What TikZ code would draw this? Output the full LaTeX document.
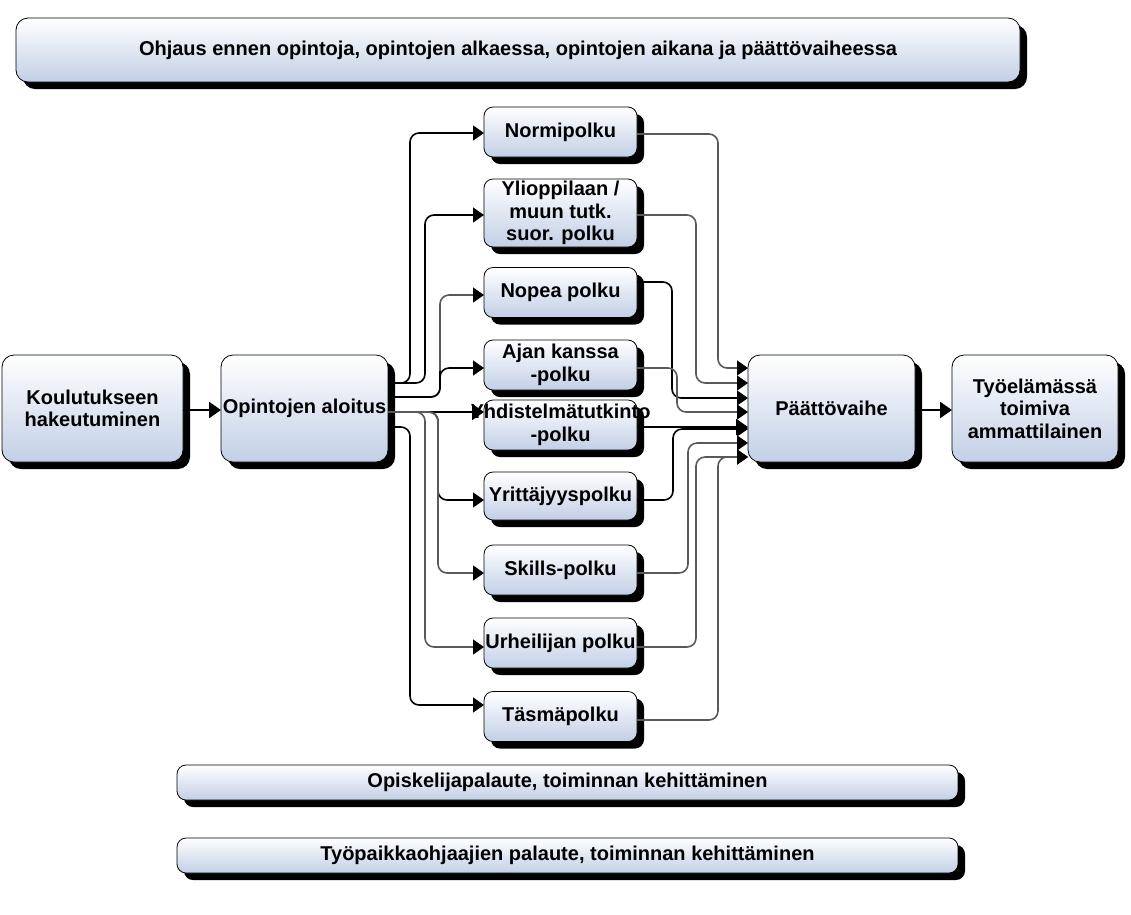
\documentclass[tikz,border=0pt]{standalone}
\usepackage{fontspec}
\setmainfont{Liberation Sans}
\definecolor{flowBlue}{HTML}{C2CFE6}
\definecolor{flowGray}{HTML}{595959}
\usetikzlibrary{arrows.meta, positioning, shadows}

\begin{document}
\begin{tikzpicture}[
  x=1pt, y=-1pt,
  box/.style={draw=black, line width=0.8pt, rounded corners=12pt,
    top color=white, bottom color=flowBlue,
    drop shadow={shadow xshift=7pt, shadow yshift=-7pt, fill=black, opacity=1},
    align=center, inner sep=0pt, outer sep=0pt,
    font=\fontsize{20}{22.5}\selectfont\bfseries},
  stage/.style={box, minimum width=167pt, minimum height=107pt},
  route/.style={box, rounded corners=9pt, minimum width=153pt, minimum height=50pt},
  band/.style={box, rounded corners=9pt, minimum width=781pt, minimum height=35pt},
  link/.style={line width=1.6pt, rounded corners=9pt,
    -{Triangle[length=11pt, width=15pt, color=black]}},
  mainlink/.style={line width=2.4pt, -{Triangle[length=12pt, width=16pt, color=black]}}
]
  \useasboundingbox (0,0) rectangle (1131,914);

  % Nodes
  \node[box, minimum width=1004pt, minimum height=64pt] (ohjaus) at (518,50)
    {Ohjaus ennen opintoja, opintojen alkaessa, opintojen aikana ja päättövaiheessa};
  \node[stage, minimum width=181pt] (hakeutuminen) at (92.5,408.5) {Koulutukseen\\hakeutuminen};
  \node[stage, right=38pt of hakeutuminen] (aloitus) {Opintojen aloitus};

  \node[route] (normi) at (560.5,132) {Normipolku};
  \node[route, minimum height=68pt] (ylioppilas) at (560.5,213) {Ylioppilaan /\\muun tutk.\\suor. polku};
  \node[route] (nopea) at (560.5,292.5) {Nopea polku};
  \node[route] (ajan) at (560.5,365) {Ajan kanssa\\-polku};
  \node[route] (yhdistelma) at (560.5,425) {\makebox[0pt]{Yhdistelmätutkinto}\\-polku};
  \node[route, minimum height=48pt] (yrittajyys) at (560.5,496) {Yrittäjyyspolku};
  \node[route] (skills) at (560.5,570) {Skills-polku};
  \node[route] (urheilija) at (560.5,643) {Urheilijan polku};
  \node[route] (tasma) at (560.5,716.5) {Täsmäpolku};

  \node[stage] (paatto) at (831.5,408.5) {Päättövaihe};
  \node[stage, minimum width=166pt, right=37pt of paatto] (tyoelama) {Työelämässä\\toimiva\\ammattilainen};

  \node[band] (opiskelija) at (567.5,782.5) {Opiskelijapalaute, toiminnan kehittäminen};
  \node[band] (ohjaajat) at (567.5,855.5) {Työpaikkaohjaajien palaute, toiminnan kehittäminen};

  % Paths in
  \draw[mainlink] (hakeutuminen.east |- 0,410) -- (aloitus.west |- 0,410);
  \draw[link] (aloitus.east |- 0,383) -| (410,300) |- (normi.west |- 0,133);
  \draw[link] (aloitus.east |- 0,383) -| (425,300) |- (ylioppilas.west |- 0,215);
  \draw[link, flowGray] (aloitus.east |- 0,397) -| (440,340) |- (nopea.west |- 0,295);
  \draw[link] (aloitus.east |- 0,397) -| (440,380) |- (ajan.west |- 0,368);
  \draw[mainlink] (aloitus.east |- 0,412) -- (yhdistelma.west |- 0,412);
  \draw[link] (aloitus.east |- 0,412) -| (438,450) |- (yrittajyys.west |- 0,500);
  \draw[link, flowGray] (aloitus.east |- 0,412) -| (438,520) |- (skills.west |- 0,573);
  \draw[link, flowGray] (aloitus.east |- 0,412) -| (425,550) |- (urheilija.west |- 0,647);
  \draw[link] (aloitus.east |- 0,427) -| (410,600) |- (tasma.west |- 0,705);

  % Paths out
  \draw[link, flowGray] (normi.east |- 0,134) -| (718,300) |- (paatto.west |- 0,368);
  \draw[link, flowGray] (ylioppilas.east |- 0,215) -| (696,300) |- (paatto.west |- 0,383);
  \draw[link] (nopea.east |- 0,282) -| (672,350) |- (paatto.west |- 0,398);
  \draw[link, flowGray] (ajan.east |- 0,368) -| (677,390) |- (paatto.west |- 0,412);
  \draw[mainlink] (yhdistelma.east |- 0,427) -- (paatto.west |- 0,427);
  \draw[link] (yrittajyys.east |- 0,500) -| (673,460) |- (paatto.west |- 0,429);
  \draw[link, flowGray] (skills.east |- 0,573) -| (688,500) |- (paatto.west |- 0,443);
  \draw[link, flowGray] (urheilija.east |- 0,647) -| (696,550) |- (paatto.west |- 0,457);
  \draw[link, flowGray] (tasma.east |- 0,720) -| (718,600) |- (paatto.west |- 0,457);
  \draw[mainlink] (paatto.east |- 0,410) -- (tyoelama.west |- 0,410);
\end{tikzpicture}
\end{document}
